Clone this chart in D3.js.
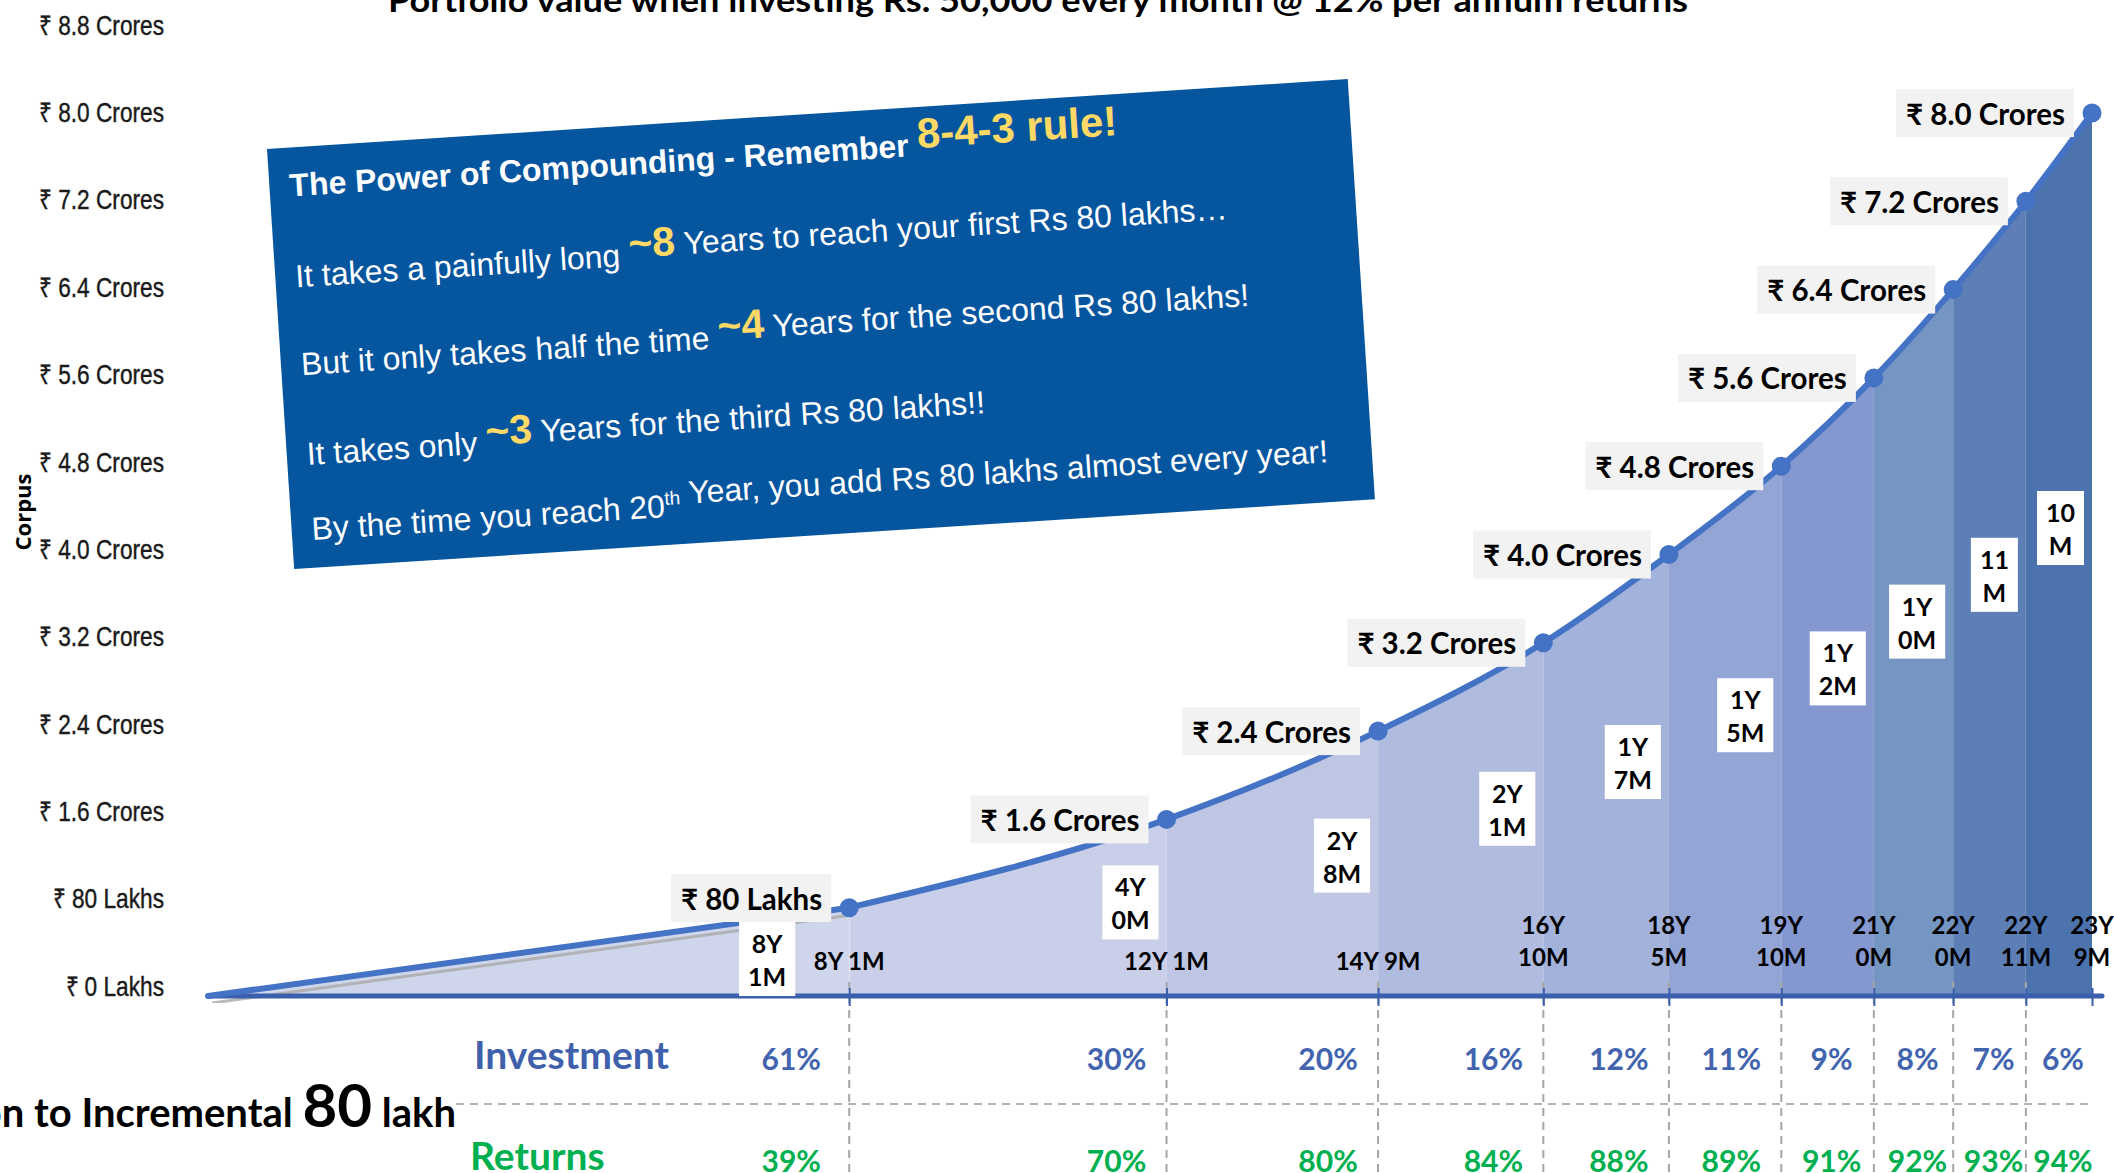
<!DOCTYPE html>
<html>
<head>
<meta charset="utf-8">
<script src="https://cdn.jsdelivr.net/npm/d3@7.9.0/dist/d3.min.js"></script>
<style>
  body { margin: 0; background: #fff; }
  svg { display: block; }
</style>
</head>
<body>
<svg id="chart" width="2114" height="1173"></svg>
<script>
// values
const milestoneLabels = ['₹ 80 Lakhs', '₹ 1.6 Crores', '₹ 2.4 Crores', '₹ 3.2 Crores', '₹ 4.0 Crores',
  '₹ 4.8 Crores', '₹ 5.6 Crores', '₹ 6.4 Crores', '₹ 7.2 Crores', '₹ 8.0 Crores'];
const corpusCrores = [0.8, 1.6, 2.4, 3.2, 4.0, 4.8, 5.6, 6.4, 7.2, 8.0];
const monthsElapsed = [97, 145, 177, 202, 221, 238, 252, 264, 275, 285];
const elapsedLabels = ['8Y 1M', '12Y 1M', '14Y 9M', '16Y 10M', '18Y 5M', '19Y 10M', '21Y 0M', '22Y 0M', '22Y 11M', '23Y 9M'];
const durationLabels = [['8Y', '1M'], ['4Y', '0M'], ['2Y', '8M'], ['2Y', '1M'], ['1Y', '7M'],
  ['1Y', '5M'], ['1Y', '2M'], ['1Y', '0M'], ['11', 'M'], ['10', 'M']];
const investmentShare = [61, 30, 20, 16, 12, 11, 9, 8, 7, 6];
const returnsShare = [39, 70, 80, 84, 88, 89, 91, 92, 93, 94];
const yTickValues = [0, 0.8, 1.6, 2.4, 3.2, 4.0, 4.8, 5.6, 6.4, 7.2, 8.0, 8.8];
const yTickLabels = ['₹ 0 Lakhs', '₹ 80 Lakhs', '₹ 1.6 Crores', '₹ 2.4 Crores', '₹ 3.2 Crores', '₹ 4.0 Crores',
  '₹ 4.8 Crores', '₹ 5.6 Crores', '₹ 6.4 Crores', '₹ 7.2 Crores', '₹ 8.0 Crores', '₹ 8.8 Crores'];

const bandColors = ['#cfd5ea', '#c9cfe8', '#bec6e4', '#afbbdf', '#a3b2db', '#93a5d5', '#8497cf', '#7596c2', '#5e7fb6', '#4d73af'];

const title = 'Portfolio value when investing Rs. 50,000 every month @ 12% per annum returns';

const svg = d3.select('#chart');
const calibri = 'Lato, "Open Sans", sans-serif';
const arial = '"Liberation Sans", Arial, sans-serif';

const x = d3.scaleLinear().domain([0, 285]).range([208, 2092]);
const y = d3.scaleLinear().domain([0, 8]).range([996, 113]);
// the tick label column sits a little off the plot scale in the picture
const yLab = d3.scaleLinear().domain([0, 8.8]).range([986, 25]);

const pts = [[0, 0]].concat(monthsElapsed.map((m, i) => [m, corpusCrores[i]]));
const starts = [0].concat(monthsElapsed.slice(0, -1));

// title (cut off at the top)
svg.append('text')
  .attr('x', 388).attr('y', 12)
  .attr('textLength', 1300).attr('lengthAdjust', 'spacingAndGlyphs')
  .style('font-family', calibri).style('font-weight', 700).style('font-size', '32px')
  .text(title);

// y tick labels (condensed)
svg.append('g')
  .attr('transform', 'translate(164,0) scale(0.84,1)')
  .selectAll('text')
  .data(yTickValues)
  .join('text')
  .attr('x', 0)
  .attr('y', d => yLab(d))
  .attr('text-anchor', 'end')
  .attr('dominant-baseline', 'central')
  .style('font-family', '"Liberation Sans Narrow", "Liberation Sans", sans-serif')
  .style('font-size', '27px')
  .attr('fill', '#1a1a1a')
  .attr('stroke', '#1a1a1a').attr('stroke-width', 0.4)
  .text((d, i) => yTickLabels[i]);

svg.append('text')
  .attr('transform', 'translate(31,512) rotate(-90)')
  .attr('text-anchor', 'middle')
  .style('font-family', '"Open Sans", sans-serif').style('font-weight', 700).style('font-size', '22px')
  .text('Corpus');

// bands under the curve: straight first leg, smooth afterwards
const area = d3.area()
  .x(d => x(d[0])).y0(y(0)).y1(d => y(d[1]))
  .curve(d3.curveMonotoneX);
const line = d3.line()
  .x(d => x(d[0])).y(d => y(d[1]))
  .curve(d3.curveMonotoneX);
const firstArea = d3.area().x(d => x(d[0])).y0(y(0)).y1(d => y(d[1]));
const firstLine = d3.line().x(d => x(d[0])).y(d => y(d[1]));

const defs = svg.append('defs');
monthsElapsed.forEach((m, i) => {
  defs.append('clipPath').attr('id', 'band' + i)
    .append('rect')
    .attr('x', x(starts[i])).attr('y', 0)
    .attr('width', x(m) - x(starts[i])).attr('height', y(0));
});

svg.append('g').selectAll('path')
  .data(monthsElapsed)
  .join('path')
  .attr('d', (d, i) => i === 0 ? firstArea(pts.slice(0, 2)) : area(pts.slice(1)))
  .attr('clip-path', (d, i) => `url(#band${i})`)
  .attr('fill', (d, i) => bandColors[i]);

// grey shadow under the first leg
svg.append('path')
  .attr('d', firstLine(pts.slice(0, 2)))
  .attr('transform', 'translate(4,7)')
  .attr('clip-path', 'url(#band0)')
  .attr('fill', 'none').attr('stroke', '#a9a9a9').attr('stroke-width', 3).attr('opacity', 0.8);

// dashed guides below the axis
svg.append('g').selectAll('line')
  .data(monthsElapsed.slice(0, -1))
  .join('line')
  .attr('x1', d => x(d)).attr('x2', d => x(d))
  .attr('y1', 982).attr('y2', 1173)
  .attr('stroke', '#a6a6a6').attr('stroke-width', 2).attr('stroke-dasharray', '8 6');

svg.append('line')
  .attr('x1', 456).attr('x2', 2088).attr('y1', 1104).attr('y2', 1104)
  .attr('stroke', '#b3b3b3').attr('stroke-width', 2).attr('stroke-dasharray', '8 6');

// x axis
const xAxis = d3.axisBottom(x)
  .tickValues(monthsElapsed)
  .tickSize(10).tickSizeOuter(0)
  .tickFormat('');
const axG = svg.append('g').attr('transform', `translate(0,${y(0)})`).call(xAxis);
axG.select('.domain').remove();
axG.selectAll('.tick line').attr('y1', -8).attr('stroke', '#3a5fad').attr('stroke-width', 2);
svg.append('line')
  .attr('x1', x(0)).attr('x2', x(285) + 10).attr('y1', y(0)).attr('y2', y(0))
  .attr('stroke', '#3a5fad').attr('stroke-width', 5).attr('stroke-linecap', 'round');

// curve
svg.append('path')
  .attr('d', firstLine(pts.slice(0, 2)))
  .attr('fill', 'none').attr('stroke', '#4472c4').attr('stroke-width', 6).attr('stroke-linecap', 'round');
svg.append('path')
  .attr('d', line(pts.slice(1)))
  .attr('fill', 'none').attr('stroke', '#4472c4').attr('stroke-width', 6).attr('stroke-linejoin', 'round');

// elapsed time labels above the axis
const elapsedG = svg.append('g')
  .style('font-family', calibri).style('font-weight', 700).style('font-size', '24px');
monthsElapsed.forEach((m, i) => {
  const narrow = x(m) - x(starts[i]) < 180;
  const t = elapsedG.append('text').attr('x', x(m)).attr('text-anchor', 'middle')
    .attr('dominant-baseline', 'central');
  if (narrow) {
    const parts = elapsedLabels[i].split(' ');
    t.append('tspan').attr('x', x(m)).attr('y', 924).text(parts[0]);
    t.append('tspan').attr('x', x(m)).attr('y', 956).text(parts[1]);
  } else {
    t.attr('y', 960).text(elapsedLabels[i]);
  }
});

// duration boxes inside each band
const durTops = [];
const durG = svg.append('g')
  .style('font-family', calibri).style('font-weight', 700).style('font-size', '25px');
monthsElapsed.forEach((m, i) => {
  const g = durG.append('g');
  const t1 = g.append('text').attr('text-anchor', 'middle').attr('dominant-baseline', 'central').text(durationLabels[i][0]);
  const t2 = g.append('text').attr('text-anchor', 'middle').attr('dominant-baseline', 'central').text(durationLabels[i][1]);
  const w = Math.max(t1.node().getComputedTextLength(), t2.node().getComputedTextLength()) + 18;
  const h = 74;
  const yEnd = y(corpusCrores[i]);
  let cy = yEnd + 0.47 * (y(0) - yEnd);
  let right = x(m) - 8;
  if (cy + h / 2 > y(0) - 12) {
    cy = y(0) - h / 2;
    right = x(m) - 54;
  }
  const cx = right - w / 2;
  durTops.push({top: cy - h / 2, left: cx - w / 2, right: cx + w / 2});
  g.insert('rect', 'text')
    .attr('x', cx - w / 2).attr('y', cy - h / 2).attr('width', w).attr('height', h)
    .attr('fill', '#fff');
  t1.attr('x', cx).attr('y', cy - 16);
  t2.attr('x', cx).attr('y', cy + 17);
});

svg.append('g').selectAll('circle')
  .data(pts.slice(1))
  .join('circle')
  .attr('cx', d => x(d[0])).attr('cy', d => y(d[1]))
  .attr('r', 9.5).attr('fill', '#4472c4');

// milestone labels, nudged up when they would sit on a duration box
const msG = svg.append('g')
  .style('font-family', calibri).style('font-weight', 700).style('font-size', '29.5px');
pts.slice(1).forEach((d, i) => {
  const g = msG.append('g');
  const px = x(d[0]);
  let py = y(d[1]);
  const t = g.append('text')
    .attr('x', px - 27)
    .attr('text-anchor', 'end').attr('dominant-baseline', 'central')
    .text(milestoneLabels[i]);
  const w = t.node().getComputedTextLength();
  const boxL = px - 18 - w - 19, boxR = px - 18;
  const db = durTops[i];
  if (py + 24 > db.top && boxL < db.right && boxR > db.left) py = db.top - 24;
  t.attr('y', py);
  g.insert('rect', 'text')
    .attr('x', boxL).attr('y', py - 24)
    .attr('width', w + 19).attr('height', 48)
    .attr('fill', '#f2f2f2');
});

// share rows
const shareX = (m, i) => Math.max(x(m) - 50, (x(m) + x(starts[i])) / 2 + 4);
svg.append('text').attr('x', 474).attr('y', 1054).attr('dominant-baseline', 'central')
  .style('font-family', calibri).style('font-weight', 700).style('font-size', '39px')
  .attr('fill', '#3f61ac').text('Investment');
svg.append('text').attr('x', 470).attr('y', 1155).attr('dominant-baseline', 'central')
  .style('font-family', calibri).style('font-weight', 700).style('font-size', '39px')
  .attr('fill', '#00b050').text('Returns');

svg.append('g').selectAll('text')
  .data(investmentShare)
  .join('text')
  .attr('x', (d, i) => shareX(monthsElapsed[i], i) - (i === 0 ? 8 : 0)).attr('y', 1058)
  .attr('text-anchor', 'middle').attr('dominant-baseline', 'central')
  .style('font-family', calibri).style('font-weight', 700).style('font-size', '30px')
  .attr('fill', '#4264ae')
  .text(d => d + '%');

svg.append('g').selectAll('text')
  .data(returnsShare)
  .join('text')
  .attr('x', (d, i) => shareX(monthsElapsed[i], i) - (i === 0 ? 8 : 0)).attr('y', 1160)
  .attr('text-anchor', 'middle').attr('dominant-baseline', 'central')
  .style('font-family', calibri).style('font-weight', 700).style('font-size', '30px')
  .attr('fill', '#00b050')
  .text(d => d + '%');

// left caption, cut at the page edge
const cap = svg.append('text').attr('x', 456).attr('y', 1127).attr('text-anchor', 'end')
  .style('font-family', calibri).style('font-weight', 700).style('font-size', '40px');
cap.append('tspan').text('Contribution to Incremental ');
cap.append('tspan').style('font-size', '60px').text('80');
cap.append('tspan').text(' lakh');

// the tilted note
const note = svg.append('g').attr('transform', 'translate(267,149) rotate(-3.7)');
note.append('rect').attr('width', 1083).attr('height', 421).attr('fill', '#05559f');
const noteLines = [
  {y: 49, parts: [['The Power of Compounding - Remember ', 0], ['8-4-3 rule!', 1]], bold: true},
  {y: 140, parts: [['It takes a painfully long ', 0], ['~8', 1], [' Years to reach your first Rs 80 lakhs…', 0]]},
  {y: 228, parts: [['But it only takes half the time ', 0], ['~4', 1], [' Years for the second Rs 80 lakhs!', 0]]},
  {y: 318, parts: [['It takes only ', 0], ['~3', 1], [' Years for the third Rs 80 lakhs!!', 0]]},
  {y: 393, parts: [['By the time you reach 20', 0], ['th', 2], [' Year, you add Rs 80 lakhs almost every year!', 0]]}
];
noteLines.forEach(l => {
  const t = note.append('text').attr('x', 20).attr('y', l.y)
    .style('font-family', arial).style('font-size', '32px')
    .style('font-weight', l.bold ? 700 : 400).attr('fill', '#fff');
  l.parts.forEach(([s, kind]) => {
    const ts = t.append('tspan').text(s);
    if (kind === 1) {
      ts.attr('dy', -8).attr('fill', '#ffd966').style('font-weight', 700)
        .style('font-size', l.bold ? '42px' : '41px');
    } else if (kind === 2) {
      ts.attr('dy', -12).style('font-size', '19px');
    }
    if (kind) {
      t.append('tspan').attr('dy', kind === 1 ? 8 : 12).text('');
    }
  });
});
</script>
</body>
</html>
